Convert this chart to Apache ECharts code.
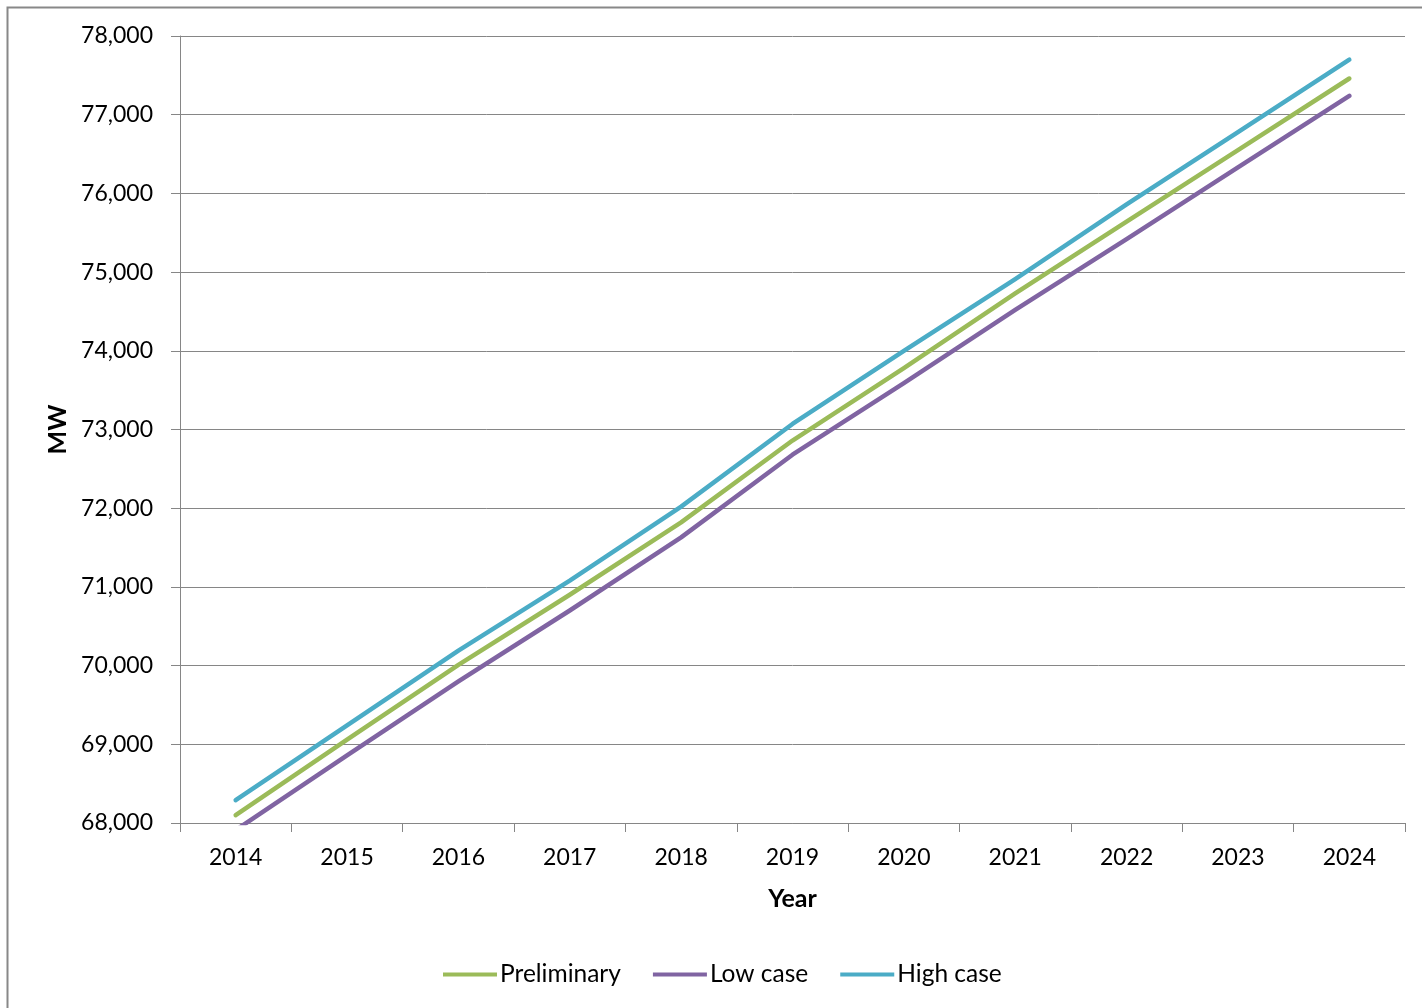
<!DOCTYPE html>
<html>
<head>
<meta charset="utf-8">
<script src="https://cdn.jsdelivr.net/npm/echarts@6/dist/echarts.min.js"></script>
<style>
html,body{margin:0;padding:0;background:#fff;}
#c{width:1422px;height:1008px;}
</style>
</head>
<body>
<div id="c"></div>
<script>
var years = ['2014','2015','2016','2017','2018','2019','2020','2021','2022','2023','2024'];
var preliminary = [68100, 69060, 70010, 70900, 71820, 72860, 73780, 74730, 75640, 76550, 77460];
var lowCase     = [67910, 68860, 69800, 70700, 71630, 72680, 73590, 74520, 75420, 76330, 77240];
var highCase    = [68290, 69240, 70190, 71080, 72020, 73070, 74000, 74910, 75860, 76780, 77700];
var yTicks = { min: 68000, max: 78000, interval: 1000 };

var FONT = 'Lato, "Open Sans", sans-serif';
var chart = echarts.init(document.getElementById('c'), null, {renderer: 'canvas'});
function lineSeries(name, data, color) {
  return {
    name: name, type: 'line', data: data, symbol: 'none', clip: true,
    lineStyle: { color: color, width: 4.5, cap: 'round', join: 'round' },
    itemStyle: { color: color }
  };
}
chart.setOption({
  animation: false,
  backgroundColor: '#fff',
  graphic: [{
    type: 'rect', left: 5, top: 5,
    shape: { width: 1440, height: 1040 },
    style: { fill: 'none', stroke: '#888', lineWidth: 2 }, z: -1
  }],
  grid: { left: 180, right: 17, top: 36, bottom: 185, containLabel: false },
  legend: {
    left: 438, top: 957,
    itemWidth: 54, itemHeight: 4, itemGap: 32,
    icon: 'rect',
    textStyle: { fontFamily: FONT, fontSize: 24.5, color: '#000', padding: [0, 0, 0, -2] },
    data: ['Preliminary', 'Low case', 'High case']
  },
  xAxis: {
    type: 'category', data: years, boundaryGap: true,
    name: 'Year', nameLocation: 'middle', nameGap: 63,
    nameTextStyle: { fontFamily: FONT, fontSize: 25, fontWeight: 'bold', color: '#000' },
    axisLine: { show: true, lineStyle: { color: '#868686', width: 1 } },
    axisTick: { show: true, length: 9, alignWithLabel: false, lineStyle: { color: '#868686' } },
    axisLabel: { fontFamily: FONT, fontSize: 23, color: '#000', margin: 23 },
    splitLine: { show: false }
  },
  yAxis: {
    type: 'value', min: yTicks.min, max: yTicks.max, interval: yTicks.interval,
    name: 'MW', nameLocation: 'middle', nameGap: 110, nameRotate: 90,
    nameTextStyle: { fontFamily: FONT, fontSize: 25, fontWeight: 'bold', color: '#000' },
    axisLine: { show: true, lineStyle: { color: '#868686', width: 1 } },
    axisTick: { show: true, length: 9, lineStyle: { color: '#868686' } },
    axisLabel: {
      fontFamily: FONT, fontSize: 23, color: '#000', margin: 27,
      formatter: function (v) { return v.toLocaleString('en-US'); }
    },
    splitLine: { show: true, lineStyle: { color: '#868686', width: 1 } }
  },
  series: [
    lineSeries('Preliminary', preliminary, '#9BBB59'),
    lineSeries('Low case', lowCase, '#8064A2'),
    lineSeries('High case', highCase, '#4BACC6')
  ]
});
</script>
</body>
</html>
